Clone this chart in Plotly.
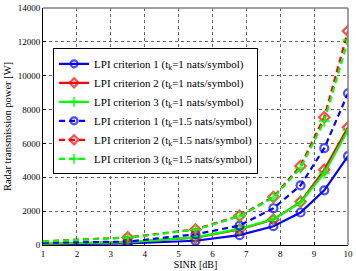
import plotly.graph_objects as go

sinr_db = [1, 3.5, 5.5, 6.8, 7.8, 8.6, 9.3, 10]

crit1_t1 = [50, 90, 250, 580, 1110, 1920, 3230, 5250]
crit2_t1 = [75, 170, 430, 920, 1500, 2550, 4440, 6950]
crit3_t1 = [75, 170, 450, 950, 1520, 2520, 4250, 6780]
crit1_t15 = [130, 200, 630, 1150, 2170, 3520, 5720, 8960]
crit2_t15 = [220, 450, 920, 1730, 2840, 4670, 7550, 12640]
crit3_t15 = [210, 430, 900, 1700, 2800, 4550, 7320, 12100]

names = [
    "LPI criterion 1 (t<sub>k</sub>=1 nats/symbol)",
    "LPI criterion 2 (t<sub>k</sub>=1 nats/symbol)",
    "LPI criterion 3 (t<sub>k</sub>=1 nats/symbol)",
    "LPI criterion 1 (t<sub>k</sub>=1.5 nats/symbol)",
    "LPI criterion 2 (t<sub>k</sub>=1.5 nats/symbol)",
    "LPI criterion 3 (t<sub>k</sub>=1.5 nats/symbol)",
]

series = [crit1_t1, crit2_t1, crit3_t1, crit1_t15, crit2_t15, crit3_t15]
colors = ["#0000FF", "#FF0000", "#00FF00"] * 2
symbols = ["circle-open", "diamond-open", "cross-thin-open"] * 2
dashes = ["solid"] * 3 + ["6px,4px"] * 3

fig = go.Figure()
for ys, nm, c, sym, d in zip(series, names, colors, symbols, dashes):
    sizes = [0] + [8] * (len(sinr_db) - 1)
    fig.add_trace(go.Scatter(
        x=sinr_db, y=ys, name=nm, mode="lines+markers",
        line=dict(color=c, width=2.2, dash=d),
        marker=dict(symbol=sym, size=sizes, color=c, line=dict(color=c, width=2.2)),
    ))

font_family = "Liberation Serif, Times New Roman, serif"
fig.update_layout(
    width=356, height=271,
    margin=dict(l=43, r=6, t=3, b=25),
    paper_bgcolor="white", plot_bgcolor="white",
    font=dict(family=font_family, size=9, color="black"),
    showlegend=True,
    legend=dict(
        x=0.033, y=0.83, xanchor="left", yanchor="top",
        bgcolor="white", bordercolor="black", borderwidth=1,
        font=dict(family=font_family, size=11, color="black"),
    ),
    xaxis=dict(
        range=[1, 10], tickvals=list(range(1, 11)), tickformat="d",
        showline=True, linecolor="black", linewidth=1,
        ticks="inside", ticklen=3, tickcolor="black",
        showgrid=True, gridcolor="#666666", griddash="dot", gridwidth=1,
        zeroline=False, ticklabeloverflow="allow",
        title=dict(text="SINR [dB]", font=dict(size=10), standoff=2),
        tickfont=dict(size=9),
    ),
    yaxis=dict(
        range=[0, 14000], tickvals=list(range(0, 14001, 2000)), tickformat="d",
        showline=True, linecolor="black", linewidth=1,
        ticks="inside", ticklen=3, tickcolor="black",
        showgrid=True, gridcolor="#666666", griddash="dot", gridwidth=1,
        zeroline=False, ticklabeloverflow="allow",
        title=dict(text="Radar transmission power [W]", font=dict(size=10.5), standoff=4),
        tickfont=dict(size=9),
    ),
    shapes=[
        dict(type="line", xref="paper", yref="paper", x0=0, x1=1, y0=1, y1=1,
             line=dict(color="#808080", width=1.5)),
        dict(type="line", xref="paper", yref="paper", x0=1, x1=1, y0=0, y1=1,
             line=dict(color="#808080", width=1.5)),
    ],
)

fig.write_html(
    "out.html",
    config={"displayModeBar": False},
    post_script="document.body.style.margin='0';document.body.style.padding='0';",
)
